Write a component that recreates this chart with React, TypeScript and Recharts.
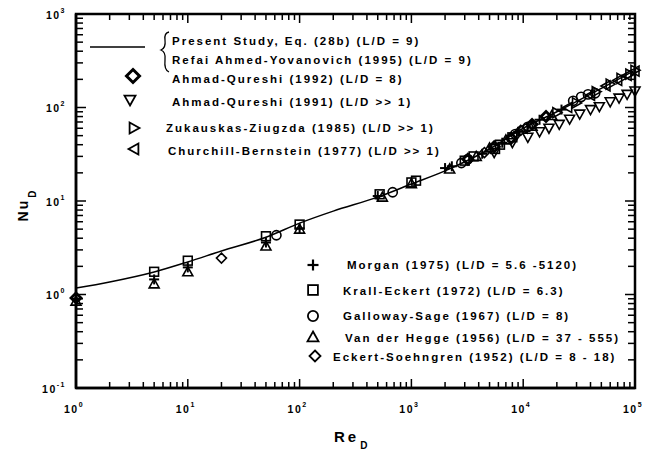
import React from 'react';
import { ComposedChart, Scatter, XAxis, YAxis, Customized } from 'recharts';

const FONT = '"Liberation Sans", Arial, sans-serif';

// Correlation curve (Present Study / Refai Ahmed-Yovanovich)
const curveRe = [1, 2, 5, 10, 20, 50, 100, 200, 500, 1000, 2000, 5000, 10000, 20000, 50000, 100000];
const curveNu = [1.17, 1.36, 1.74, 2.23, 2.92, 4.1, 5.8, 7.8, 11.0, 15.2, 21, 36, 60, 90, 160, 250];

// Ahmad-Qureshi (1992) (L/D = 8)  - filled diamond
const aq92Re = [1, 3200, 5500, 7800, 12000, 16000];
const aq92Nu = [0.92, 28, 38, 47, 66, 80];

// Ahmad-Qureshi (1991) (L/D >> 1) - down triangle
const aq91Re = [5500, 8000, 11000, 14000, 17000, 21000, 26000, 32000, 40000, 48000, 60000, 72000, 85000, 100000];
const aq91Nu = [33, 42, 48, 55, 60, 66, 75, 85, 95, 102, 115, 126, 138, 150];

// Zukauskas-Ziugzda (1985) (L/D >> 1) - right triangle
const zukRe = [20000, 30000, 45000, 60000, 75000, 90000, 100000];
const zukNu = [88, 112, 148, 178, 205, 228, 250];

// Churchill-Bernstein (1977) (L/D >> 1) - left triangle
const chbRe = [10000, 25000, 40000, 55000, 70000, 85000, 100000];
const chbNu = [60, 100, 135, 170, 195, 220, 245];

// Morgan (1975) - plus
const morRe = [1, 5, 10, 50, 100, 500, 2000, 2300, 4300, 6500, 9000, 14000, 22000];
const morNu = [0.9, 1.45, 1.95, 3.6, 5.1, 11.3, 22.5, 23.5, 32, 42, 55, 74, 95];

// Krall-Eckert (1972) - square
const kraRe = [5, 10, 50, 100, 520, 1000, 1100, 3000, 3600, 5600, 6200, 8000];
const kraNu = [1.75, 2.3, 4.2, 5.6, 11.8, 15.8, 16.5, 27, 30, 36, 40, 48];

// Galloway-Sage (1967) - circle
const galRe = [62, 680, 2800, 3200, 8500, 11000, 28000, 33000, 38000, 44000];
const galNu = [4.3, 12.4, 25.5, 28, 52, 62, 118, 130, 138, 142];

// Van der Hegge (1956) - up triangle
const vdhRe = [1, 5, 10, 50, 100, 550, 1000, 2200, 3800, 5000, 7000, 12000, 18000];
const vdhNu = [0.85, 1.3, 1.75, 3.3, 5.0, 11, 15.3, 22, 30, 37, 45, 63, 82];

// Eckert-Soehngren (1952) - diamond
const ecsRe = [20, 4500, 9500];
const ecsNu = [2.45, 33, 57];

// axis ranges and ticks
const reDomain = [1, 100000];
const nuDomain = [0.1, 1000];
const xDecades = [0, 1, 2, 3, 4, 5];
const yDecades = [-1, 0, 1, 2, 3];
const minorMults = [2, 3, 4, 5, 6, 7, 8, 9];
const buildTicks = (dec: number[]) =>
  dec.flatMap((d, i) => [Math.pow(10, d), ...(i < dec.length - 1 ? minorMults.map((m) => m * Math.pow(10, d)) : [])]);
const xTicks = buildTicks(xDecades);
const yTicks = buildTicks(yDecades);

const toPts = (re: number[], nu: number[]) => re.map((r, i) => ({ Re: r, Nu: nu[i] }));

type Kind = 'plus' | 'square' | 'circle' | 'up' | 'down' | 'left' | 'right' | 'diamond' | 'fdiamond';

function Mark({ kind, cx, cy, s = 5, sw = 1.6 }: { kind: Kind; cx: number; cy: number; s?: number; sw?: number }) {
  const c = { fill: 'none', stroke: '#000', strokeWidth: sw };
  switch (kind) {
    case 'plus':
      return (
        <g {...c} strokeWidth={sw + 0.4}>
          <line x1={cx - s} x2={cx + s} y1={cy} y2={cy} />
          <line x1={cx} x2={cx} y1={cy - s} y2={cy + s} />
        </g>
      );
    case 'square':
      return <rect x={cx - s + 0.6} y={cy - s + 0.6} width={2 * s - 1.2} height={2 * s - 1.2} {...c} />;
    case 'circle':
      return <circle cx={cx} cy={cy} r={s - 0.4} {...c} />;
    case 'up':
      return <polygon points={`${cx},${cy - s} ${cx + s},${cy + s * 0.8} ${cx - s},${cy + s * 0.8}`} {...c} />;
    case 'down':
      return <polygon points={`${cx},${cy + s} ${cx + s},${cy - s * 0.8} ${cx - s},${cy - s * 0.8}`} {...c} />;
    case 'right':
      return <polygon points={`${cx + s},${cy} ${cx - s * 0.8},${cy - s} ${cx - s * 0.8},${cy + s}`} {...c} />;
    case 'left':
      return <polygon points={`${cx - s},${cy} ${cx + s * 0.8},${cy - s} ${cx + s * 0.8},${cy + s}`} {...c} />;
    case 'diamond':
      return <polygon points={`${cx},${cy - s} ${cx + s},${cy} ${cx},${cy + s} ${cx - s},${cy}`} {...c} />;
    case 'fdiamond':
      return <polygon points={`${cx},${cy - s} ${cx + s},${cy} ${cx},${cy + s} ${cx - s},${cy}`} {...c} strokeWidth={sw + 1.2} />;
  }
  return null;
}

const SHAPES: Record<string, (p: any) => React.ReactElement> = {};
const shapeOf = (kind: Kind) => {
  if (!SHAPES[kind]) SHAPES[kind] = (p: any) => <Mark kind={kind} cx={p.cx} cy={p.cy} />;
  return SHAPES[kind];
};

const series: { name: string; kind: Kind; data: { Re: number; Nu: number }[] }[] = [
  { name: 'Ahmad-Qureshi (1992)', kind: 'fdiamond', data: toPts(aq92Re, aq92Nu) },
  { name: 'Ahmad-Qureshi (1991)', kind: 'down', data: toPts(aq91Re, aq91Nu) },
  { name: 'Zukauskas-Ziugzda (1985)', kind: 'right', data: toPts(zukRe, zukNu) },
  { name: 'Churchill-Bernstein (1977)', kind: 'left', data: toPts(chbRe, chbNu) },
  { name: 'Morgan (1975)', kind: 'plus', data: toPts(morRe, morNu) },
  { name: 'Krall-Eckert (1972)', kind: 'square', data: toPts(kraRe, kraNu) },
  { name: 'Galloway-Sage (1967)', kind: 'circle', data: toPts(galRe, galNu) },
  { name: 'Van der Hegge (1956)', kind: 'up', data: toPts(vdhRe, vdhNu) },
  { name: 'Eckert-Soehngren (1952)', kind: 'diamond', data: toPts(ecsRe, ecsNu) },
];
const curve = toPts(curveRe, curveNu);

const isMajor = (v: number) => Math.abs(Math.log10(v) - Math.round(Math.log10(v))) < 1e-6;
const expOf = (v: number) => Math.round(Math.log10(v));

// chart layout (plot box follows from these margins and axis sizes)
const W = 653;
const H = 453;
const MARGIN = { top: 14, right: 18, bottom: 25, left: 16 };
const X_AXIS_H = 40;
const Y_AXIS_W = 60;
const PL = MARGIN.left + Y_AXIS_W;
const PR = W - MARGIN.right;
const PT = MARGIN.top;
const PB = H - MARGIN.bottom - X_AXIS_H;
const lx = (v: number) =>
  PL + ((Math.log10(v) - Math.log10(reDomain[0])) / (Math.log10(reDomain[1]) - Math.log10(reDomain[0]))) * (PR - PL);
const ly = (v: number) =>
  PB - ((Math.log10(v) - Math.log10(nuDomain[0])) / (Math.log10(nuDomain[1]) - Math.log10(nuDomain[0]))) * (PB - PT);

// axis labels (p.x / p.y = axis position offset by default tickSize 6 + tickMargin 2)
const BottomLabel = (p: any) => {
  const v = p.payload.value;
  if (!isMajor(v)) return <g />;
  const ay = p.y - 8;
  return (
    <text x={p.x - 2} y={ay + 25} textAnchor="middle" fontFamily={FONT} fontWeight="bold" fontSize={10.5} letterSpacing={1.5} fill="#000">
      10<tspan dy={-6} fontSize={7}>{expOf(v)}</tspan>
    </text>
  );
};

const LeftLabel = (p: any) => {
  const v = p.payload.value;
  if (!isMajor(v)) return <g />;
  const ax = p.x + 8;
  return (
    <text x={ax - 10} y={p.y + 4.5} textAnchor="end" fontFamily={FONT} fontWeight="bold" fontSize={10.5} letterSpacing={1.5} fill="#000">
      10<tspan dy={-6} fontSize={7}>{expOf(v)}</tspan>
    </text>
  );
};

const txt = { fontFamily: FONT, fontWeight: 'bold' as const, fontSize: 11.5, letterSpacing: 2, fill: '#000' };

const upperLegend: { kind: Kind | null; label: string; mx: number; my: number; tx: number; ty: number }[] = [
  { kind: null, label: 'Present Study, Eq. (28b) (L/D = 9)', mx: 0, my: 0, tx: 172, ty: 41 },
  { kind: null, label: 'Refai Ahmed-Yovanovich (1995) (L/D = 9)', mx: 0, my: 0, tx: 172, ty: 60 },
  { kind: 'fdiamond', label: 'Ahmad-Qureshi (1992) (L/D = 8)', mx: 133, my: 76, tx: 172, ty: 79 },
  { kind: 'down', label: 'Ahmad-Qureshi (1991) (L/D >> 1)', mx: 130, my: 100, tx: 172, ty: 102 },
  { kind: 'right', label: 'Zukauskas-Ziugzda (1985) (L/D >> 1)', mx: 134, my: 128, tx: 166, ty: 128 },
  { kind: 'left', label: 'Churchill-Bernstein (1977) (L/D >> 1)', mx: 134, my: 149, tx: 168, ty: 151 },
];

const lowerLegend: { kind: Kind; label: string; mx: number; my: number; tx: number; ty: number }[] = [
  { kind: 'plus', label: 'Morgan (1975) (L/D = 5.6 -5120)', mx: 313, my: 265, tx: 347, ty: 265 },
  { kind: 'square', label: 'Krall-Eckert (1972) (L/D = 6.3)', mx: 313, my: 290, tx: 343, ty: 291 },
  { kind: 'circle', label: 'Galloway-Sage (1967) (L/D = 8)', mx: 313, my: 316, tx: 343, ty: 316 },
  { kind: 'up', label: 'Van der Hegge (1956) (L/D = 37 - 555)', mx: 313, my: 337, tx: 345, ty: 338 },
  { kind: 'diamond', label: 'Eckert-Soehngren (1952) (L/D = 8 - 18)', mx: 315, my: 356, tx: 333, ty: 357 },
];

const tl = (v: number) => (isMajor(v) ? 9 : 6);

const FrameAndTicks = () => (
  <g stroke="#000" fill="none">
    <rect x={PL} y={PT} width={PR - PL} height={PB - PT} strokeWidth={2.5} />
    {xTicks.map((t) => (
      <g key={`x${t}`} strokeWidth={1.5}>
        <path d={`M${lx(t)},${PB} L${lx(t)},${PB - tl(t)}`} />
        <path d={`M${lx(t)},${PT} L${lx(t)},${PT + tl(t)}`} />
      </g>
    ))}
    {yTicks.map((t) => (
      <g key={`y${t}`} strokeWidth={1.5}>
        <path d={`M${PL},${ly(t)} L${PL + tl(t) + 1},${ly(t)}`} />
        <path d={`M${PR},${ly(t)} L${PR - tl(t) - 1},${ly(t)}`} />
      </g>
    ))}
  </g>
);

const Annotations = () => (
  <g>
    <FrameAndTicks />
    <line x1={90} x2={145} y1={47} y2={47} stroke="#000" strokeWidth={1.5} />
    <path d="M169,32 Q164,33 165,40 Q166,48 161,50 Q166,52 165,60 Q164,70 169,72" fill="none" stroke="#000" strokeWidth={1.3} />
    {upperLegend.map((l) => (
      <g key={l.label}>
        {l.kind && <Mark kind={l.kind} cx={l.mx} cy={l.my} s={l.kind === 'fdiamond' ? 6.5 : 5.5} sw={1.8} />}
        <text x={l.tx} y={l.ty} dominantBaseline="central" {...txt}>{l.label}</text>
      </g>
    ))}
    {lowerLegend.map((l) => (
      <g key={l.label}>
        <Mark kind={l.kind} cx={l.mx} cy={l.my} s={5.5} sw={1.8} />
        <text x={l.tx} y={l.ty} dominantBaseline="central" {...txt}>{l.label}</text>
      </g>
    ))}
    <text x={334} y={442} fontFamily={FONT} fontWeight="bold" fontSize={15} letterSpacing={3} fill="#000">
      Re<tspan dx={1} dy={7} fontSize={10}>D</tspan>
    </text>
    <text transform="translate(28,205) rotate(-90)" textAnchor="middle" fontFamily={FONT} fontWeight="bold" fontSize={14} letterSpacing={2} fill="#000">
      Nu<tspan dx={1} dy={8} fontSize={10}>D</tspan>
    </text>
  </g>
);

const AX = { stroke: '#000', strokeWidth: 2.5 };

export default function App() {
  return (
    <div style={{ width: W, height: H, margin: '-8px 0 0 -8px', background: '#fff' }}>
      <ComposedChart width={W} height={H} margin={MARGIN}>
        <XAxis xAxisId="bottom" type="number" dataKey="Re" scale="log" domain={reDomain}
          ticks={xTicks} interval={0} tick={BottomLabel} tickLine={false} height={X_AXIS_H} axisLine={AX} />
        <YAxis yAxisId="left" type="number" dataKey="Nu" scale="log" domain={nuDomain}
          ticks={yTicks} interval={0} tick={LeftLabel} tickLine={false} width={Y_AXIS_W} axisLine={AX} />
        <Scatter xAxisId="bottom" yAxisId="left" data={curve} line={{ stroke: '#000', strokeWidth: 1.5 }}
          lineJointType="monotoneX" fill="#000" shape={() => <g />} isAnimationActive={false} />
        {series.map((s) => (
          <Scatter key={s.name} name={s.name} xAxisId="bottom" yAxisId="left" data={s.data} shape={shapeOf(s.kind)} isAnimationActive={false} />
        ))}
        <Customized component={Annotations} />
      </ComposedChart>
    </div>
  );
}
